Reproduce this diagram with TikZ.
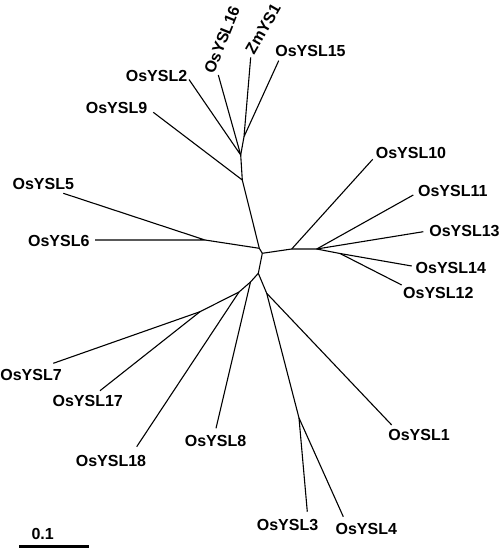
\documentclass[tikz,border=0pt]{standalone}
\usepackage{fontspec}
\setmainfont{Liberation Sans}
\begin{document}
\begin{tikzpicture}[x=1pt,y=-1pt,
  branch/.style={line width=1.1pt,line join=round},
  lbl/.style={font=\bfseries\fontsize{16}{18}\selectfont,inner sep=0pt,anchor=center},
  scalebar/.style={line width=2.5pt}]
\useasboundingbox (0,0) rectangle (500,548);
% internal nodes
\coordinate (ZO) at (244,136.7);
\coordinate (A) at (240.7,155);
\coordinate (B) at (242.3,180);
\coordinate (R1) at (259.3,248.3);
\coordinate (G) at (205,240);
\coordinate (R2) at (262.3,253.3);
\coordinate (C) at (291.7,249);
\coordinate (D) at (316.7,249);
\coordinate (F) at (340,253.5);
\coordinate (H) at (258.3,273.3);
\coordinate (M) at (250.5,282);
\coordinate (I) at (239,292);
\coordinate (J) at (200,311.7);
\coordinate (K) at (266.7,293.3);
\coordinate (L) at (299,418);
% leaf tips
\coordinate (t2) at (189,79.5);
\coordinate (t16) at (218.3,75);
\coordinate (tZ) at (250.7,57.3);
\coordinate (t15) at (278.7,60.7);
\coordinate (t9) at (153.3,112.3);
\coordinate (t5) at (63.3,193.3);
\coordinate (t6) at (95,240);
\coordinate (t10) at (372.7,159.3);
\coordinate (t11) at (413.3,195);
\coordinate (t13) at (423.3,231.7);
\coordinate (t14) at (411.7,266);
\coordinate (t12) at (401.7,285);
\coordinate (t7) at (53.3,363.3);
\coordinate (t17) at (100,390.7);
\coordinate (t18) at (136.7,446.7);
\coordinate (t8) at (216,428.3);
\coordinate (t1) at (391.7,425);
\coordinate (t3) at (307.3,511.7);
\coordinate (t4) at (343.3,516.7);
% labels
\node[lbl] (l2) at (156.5,75.5) {OsYSL2};
\node[lbl,rotate=68] (l16) at (222,40) {OsYSL16};
\node[lbl,rotate=60] (lZ) at (263,29) {ZmYS1};
\node[lbl] (l15) at (310.5,51) {OsYSL15};
\node[lbl] (l9) at (116.5,107.5) {OsYSL9};
\node[lbl] (l5) at (43.3,183.5) {OsYSL5};
\node[lbl] (l6) at (58.8,241) {OsYSL6};
\node[lbl] (l10) at (411,152.5) {OsYSL10};
\node[lbl] (l11) at (452.8,190.8) {OsYSL11};
\node[lbl] (l13) at (464.5,231) {OsYSL13};
\node[lbl] (l14) at (450.8,267.5) {OsYSL14};
\node[lbl] (l12) at (438.3,293) {OsYSL12};
\node[lbl] (l7) at (31,374.5) {OsYSL7};
\node[lbl] (l17) at (87.7,401) {OsYSL17};
\node[lbl] (l18) at (111,461) {OsYSL18};
\node[lbl] (l8) at (215.5,441) {OsYSL8};
\node[lbl] (l1) at (419,434.5) {OsYSL1};
\node[lbl] (l3) at (287.5,524.5) {OsYSL3};
\node[lbl] (l4) at (366.3,529) {OsYSL4};
% branches
\draw[branch] (tZ) -- (ZO) -- (t15);
\draw[branch] (ZO) -- (A);
\draw[branch] (t2) -- (A) -- (t16);
\draw[branch] (A) -- (B) -- (t9);
\draw[branch] (B) -- (R1);
\draw[branch] (t5) -- (G) -- (t6);
\draw[branch] (G) -- (R1) -- (R2);
\draw[branch] (R2) -- (C) -- (t10);
\draw[branch] (C) -- (D) -- (t11);
\draw[branch] (D) -- (t13);
\draw[branch] (D) -- (F) -- (t14);
\draw[branch] (F) -- (t12);
\draw[branch] (R2) -- (H) -- (M) -- (t8);
\draw[branch] (M) -- (I) -- (t18);
\draw[branch] (I) -- (J) -- (t7);
\draw[branch] (J) -- (t17);
\draw[branch] (H) -- (K) -- (t1);
\draw[branch] (K) -- (L) -- (t3);
\draw[branch] (L) -- (t4);
% scale bar
\coordinate (sb1) at (19,546.5);
\coordinate (sb2) at (89,546.5);
\draw[scalebar] (sb1) -- (sb2);
\node[lbl] (sbl) at (42.7,533.5) {0.1};
\end{tikzpicture}
\end{document}
